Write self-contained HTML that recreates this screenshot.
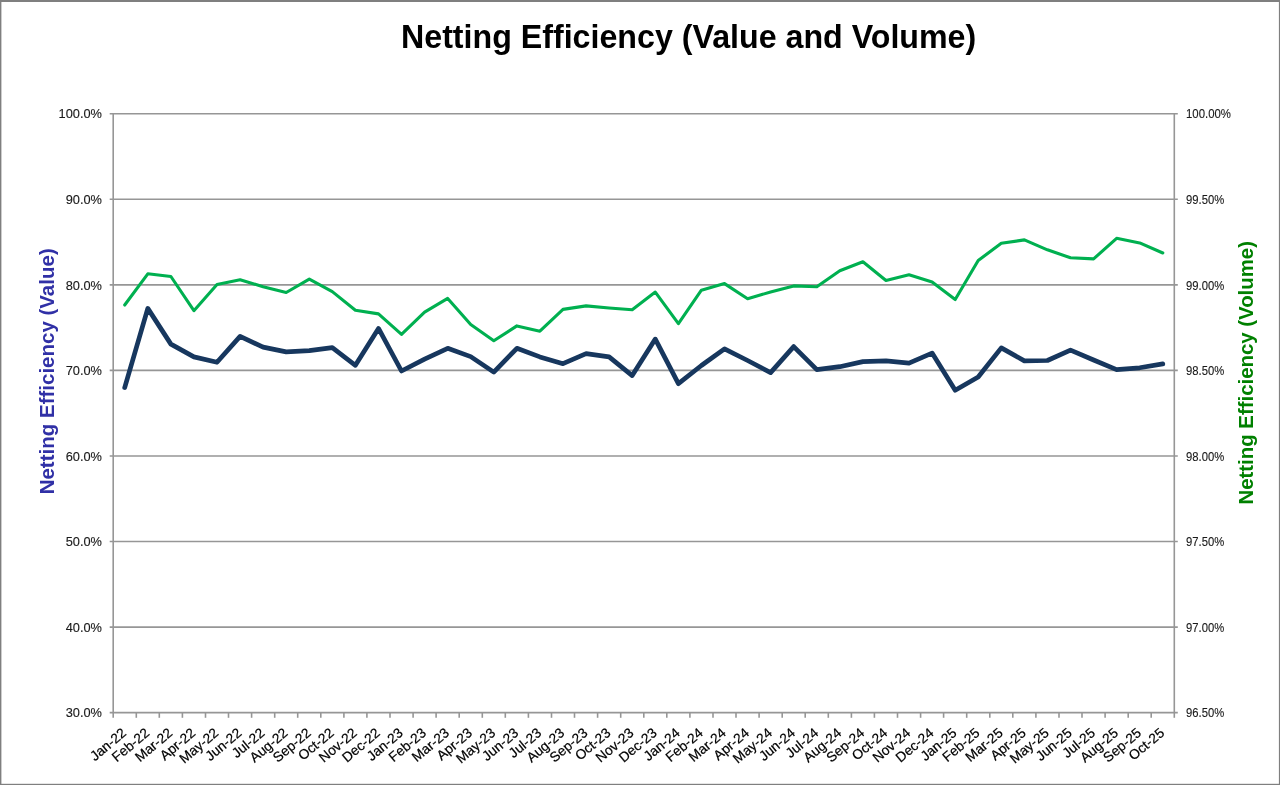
<!DOCTYPE html>
<html><head><meta charset="utf-8"><style>
html,body{margin:0;padding:0;background:#fff;width:1280px;height:785px;overflow:hidden}
svg{display:block;will-change:transform}
.g{stroke:#969696;stroke-width:1.6}
text{font-family:"Liberation Sans",sans-serif}
.yl,.yr{font-size:12.8px;fill:#1a1a1a;stroke:#1a1a1a;stroke-width:0.12px}
.xl{font-size:13.8px;fill:#000;stroke:#000;stroke-width:0.2px}
.t{font-size:32.2px;font-weight:bold;fill:#000}
.at{font-size:20.5px;font-weight:bold}
.at2{font-size:20.4px;font-weight:bold}
</style></head><body>
<svg width="1280" height="785" viewBox="0 0 1280 785">
<rect width="1280" height="785" fill="#fff"/>
<g>
<line x1="109.7" y1="113.8" x2="1177.8" y2="113.8" class="g"/>
<line x1="109.7" y1="199.3" x2="1177.8" y2="199.3" class="g"/>
<line x1="109.7" y1="284.9" x2="1177.8" y2="284.9" class="g"/>
<line x1="109.7" y1="370.4" x2="1177.8" y2="370.4" class="g"/>
<line x1="109.7" y1="456.0" x2="1177.8" y2="456.0" class="g"/>
<line x1="109.7" y1="541.5" x2="1177.8" y2="541.5" class="g"/>
<line x1="109.7" y1="627.1" x2="1177.8" y2="627.1" class="g"/>
<line x1="109.7" y1="712.6" x2="1177.8" y2="712.6" class="g"/>
<line x1="113.2" y1="113.8" x2="113.2" y2="712.6" class="g"/>
<line x1="1174.3" y1="113.8" x2="1174.3" y2="712.6" class="g"/>
<line x1="113.2" y1="712.6" x2="113.2" y2="717.8" class="g"/>
<line x1="136.3" y1="712.6" x2="136.3" y2="717.8" class="g"/>
<line x1="159.3" y1="712.6" x2="159.3" y2="717.8" class="g"/>
<line x1="182.4" y1="712.6" x2="182.4" y2="717.8" class="g"/>
<line x1="205.5" y1="712.6" x2="205.5" y2="717.8" class="g"/>
<line x1="228.5" y1="712.6" x2="228.5" y2="717.8" class="g"/>
<line x1="251.6" y1="712.6" x2="251.6" y2="717.8" class="g"/>
<line x1="274.7" y1="712.6" x2="274.7" y2="717.8" class="g"/>
<line x1="297.7" y1="712.6" x2="297.7" y2="717.8" class="g"/>
<line x1="320.8" y1="712.6" x2="320.8" y2="717.8" class="g"/>
<line x1="343.9" y1="712.6" x2="343.9" y2="717.8" class="g"/>
<line x1="366.9" y1="712.6" x2="366.9" y2="717.8" class="g"/>
<line x1="390.0" y1="712.6" x2="390.0" y2="717.8" class="g"/>
<line x1="413.1" y1="712.6" x2="413.1" y2="717.8" class="g"/>
<line x1="436.1" y1="712.6" x2="436.1" y2="717.8" class="g"/>
<line x1="459.2" y1="712.6" x2="459.2" y2="717.8" class="g"/>
<line x1="482.3" y1="712.6" x2="482.3" y2="717.8" class="g"/>
<line x1="505.3" y1="712.6" x2="505.3" y2="717.8" class="g"/>
<line x1="528.4" y1="712.6" x2="528.4" y2="717.8" class="g"/>
<line x1="551.5" y1="712.6" x2="551.5" y2="717.8" class="g"/>
<line x1="574.5" y1="712.6" x2="574.5" y2="717.8" class="g"/>
<line x1="597.6" y1="712.6" x2="597.6" y2="717.8" class="g"/>
<line x1="620.7" y1="712.6" x2="620.7" y2="717.8" class="g"/>
<line x1="643.8" y1="712.6" x2="643.8" y2="717.8" class="g"/>
<line x1="666.8" y1="712.6" x2="666.8" y2="717.8" class="g"/>
<line x1="689.9" y1="712.6" x2="689.9" y2="717.8" class="g"/>
<line x1="713.0" y1="712.6" x2="713.0" y2="717.8" class="g"/>
<line x1="736.0" y1="712.6" x2="736.0" y2="717.8" class="g"/>
<line x1="759.1" y1="712.6" x2="759.1" y2="717.8" class="g"/>
<line x1="782.2" y1="712.6" x2="782.2" y2="717.8" class="g"/>
<line x1="805.2" y1="712.6" x2="805.2" y2="717.8" class="g"/>
<line x1="828.3" y1="712.6" x2="828.3" y2="717.8" class="g"/>
<line x1="851.4" y1="712.6" x2="851.4" y2="717.8" class="g"/>
<line x1="874.4" y1="712.6" x2="874.4" y2="717.8" class="g"/>
<line x1="897.5" y1="712.6" x2="897.5" y2="717.8" class="g"/>
<line x1="920.6" y1="712.6" x2="920.6" y2="717.8" class="g"/>
<line x1="943.6" y1="712.6" x2="943.6" y2="717.8" class="g"/>
<line x1="966.7" y1="712.6" x2="966.7" y2="717.8" class="g"/>
<line x1="989.8" y1="712.6" x2="989.8" y2="717.8" class="g"/>
<line x1="1012.8" y1="712.6" x2="1012.8" y2="717.8" class="g"/>
<line x1="1035.9" y1="712.6" x2="1035.9" y2="717.8" class="g"/>
<line x1="1059.0" y1="712.6" x2="1059.0" y2="717.8" class="g"/>
<line x1="1082.0" y1="712.6" x2="1082.0" y2="717.8" class="g"/>
<line x1="1105.1" y1="712.6" x2="1105.1" y2="717.8" class="g"/>
<line x1="1128.2" y1="712.6" x2="1128.2" y2="717.8" class="g"/>
<line x1="1151.2" y1="712.6" x2="1151.2" y2="717.8" class="g"/>
<line x1="1174.3" y1="712.6" x2="1174.3" y2="717.8" class="g"/>
<text x="102" y="118.4" class="yl" text-anchor="end">100.0%</text>
<text x="102" y="203.9" class="yl" text-anchor="end">90.0%</text>
<text x="102" y="289.5" class="yl" text-anchor="end">80.0%</text>
<text x="102" y="375.0" class="yl" text-anchor="end">70.0%</text>
<text x="102" y="460.6" class="yl" text-anchor="end">60.0%</text>
<text x="102" y="546.1" class="yl" text-anchor="end">50.0%</text>
<text x="102" y="631.7" class="yl" text-anchor="end">40.0%</text>
<text x="102" y="717.2" class="yl" text-anchor="end">30.0%</text>
<text x="1186" y="118.4" class="yr" textLength="45.0" lengthAdjust="spacingAndGlyphs">100.00%</text>
<text x="1186" y="203.9" class="yr" textLength="38.2" lengthAdjust="spacingAndGlyphs">99.50%</text>
<text x="1186" y="289.5" class="yr" textLength="38.2" lengthAdjust="spacingAndGlyphs">99.00%</text>
<text x="1186" y="375.0" class="yr" textLength="38.2" lengthAdjust="spacingAndGlyphs">98.50%</text>
<text x="1186" y="460.6" class="yr" textLength="38.2" lengthAdjust="spacingAndGlyphs">98.00%</text>
<text x="1186" y="546.1" class="yr" textLength="38.2" lengthAdjust="spacingAndGlyphs">97.50%</text>
<text x="1186" y="631.7" class="yr" textLength="38.2" lengthAdjust="spacingAndGlyphs">97.00%</text>
<text x="1186" y="717.2" class="yr" textLength="38.2" lengthAdjust="spacingAndGlyphs">96.50%</text>
<text transform="translate(127.2,734.4) rotate(-40)" class="xl" text-anchor="end">Jan-22</text>
<text transform="translate(150.3,734.4) rotate(-40)" class="xl" text-anchor="end">Feb-22</text>
<text transform="translate(173.4,734.4) rotate(-40)" class="xl" text-anchor="end">Mar-22</text>
<text transform="translate(196.4,734.4) rotate(-40)" class="xl" text-anchor="end">Apr-22</text>
<text transform="translate(219.5,734.4) rotate(-40)" class="xl" text-anchor="end">May-22</text>
<text transform="translate(242.6,734.4) rotate(-40)" class="xl" text-anchor="end">Jun-22</text>
<text transform="translate(265.6,734.4) rotate(-40)" class="xl" text-anchor="end">Jul-22</text>
<text transform="translate(288.7,734.4) rotate(-40)" class="xl" text-anchor="end">Aug-22</text>
<text transform="translate(311.8,734.4) rotate(-40)" class="xl" text-anchor="end">Sep-22</text>
<text transform="translate(334.8,734.4) rotate(-40)" class="xl" text-anchor="end">Oct-22</text>
<text transform="translate(357.9,734.4) rotate(-40)" class="xl" text-anchor="end">Nov-22</text>
<text transform="translate(381.0,734.4) rotate(-40)" class="xl" text-anchor="end">Dec-22</text>
<text transform="translate(404.0,734.4) rotate(-40)" class="xl" text-anchor="end">Jan-23</text>
<text transform="translate(427.1,734.4) rotate(-40)" class="xl" text-anchor="end">Feb-23</text>
<text transform="translate(450.2,734.4) rotate(-40)" class="xl" text-anchor="end">Mar-23</text>
<text transform="translate(473.2,734.4) rotate(-40)" class="xl" text-anchor="end">Apr-23</text>
<text transform="translate(496.3,734.4) rotate(-40)" class="xl" text-anchor="end">May-23</text>
<text transform="translate(519.4,734.4) rotate(-40)" class="xl" text-anchor="end">Jun-23</text>
<text transform="translate(542.4,734.4) rotate(-40)" class="xl" text-anchor="end">Jul-23</text>
<text transform="translate(565.5,734.4) rotate(-40)" class="xl" text-anchor="end">Aug-23</text>
<text transform="translate(588.6,734.4) rotate(-40)" class="xl" text-anchor="end">Sep-23</text>
<text transform="translate(611.6,734.4) rotate(-40)" class="xl" text-anchor="end">Oct-23</text>
<text transform="translate(634.7,734.4) rotate(-40)" class="xl" text-anchor="end">Nov-23</text>
<text transform="translate(657.8,734.4) rotate(-40)" class="xl" text-anchor="end">Dec-23</text>
<text transform="translate(680.9,734.4) rotate(-40)" class="xl" text-anchor="end">Jan-24</text>
<text transform="translate(703.9,734.4) rotate(-40)" class="xl" text-anchor="end">Feb-24</text>
<text transform="translate(727.0,734.4) rotate(-40)" class="xl" text-anchor="end">Mar-24</text>
<text transform="translate(750.1,734.4) rotate(-40)" class="xl" text-anchor="end">Apr-24</text>
<text transform="translate(773.1,734.4) rotate(-40)" class="xl" text-anchor="end">May-24</text>
<text transform="translate(796.2,734.4) rotate(-40)" class="xl" text-anchor="end">Jun-24</text>
<text transform="translate(819.3,734.4) rotate(-40)" class="xl" text-anchor="end">Jul-24</text>
<text transform="translate(842.3,734.4) rotate(-40)" class="xl" text-anchor="end">Aug-24</text>
<text transform="translate(865.4,734.4) rotate(-40)" class="xl" text-anchor="end">Sep-24</text>
<text transform="translate(888.5,734.4) rotate(-40)" class="xl" text-anchor="end">Oct-24</text>
<text transform="translate(911.5,734.4) rotate(-40)" class="xl" text-anchor="end">Nov-24</text>
<text transform="translate(934.6,734.4) rotate(-40)" class="xl" text-anchor="end">Dec-24</text>
<text transform="translate(957.7,734.4) rotate(-40)" class="xl" text-anchor="end">Jan-25</text>
<text transform="translate(980.7,734.4) rotate(-40)" class="xl" text-anchor="end">Feb-25</text>
<text transform="translate(1003.8,734.4) rotate(-40)" class="xl" text-anchor="end">Mar-25</text>
<text transform="translate(1026.9,734.4) rotate(-40)" class="xl" text-anchor="end">Apr-25</text>
<text transform="translate(1049.9,734.4) rotate(-40)" class="xl" text-anchor="end">May-25</text>
<text transform="translate(1073.0,734.4) rotate(-40)" class="xl" text-anchor="end">Jun-25</text>
<text transform="translate(1096.1,734.4) rotate(-40)" class="xl" text-anchor="end">Jul-25</text>
<text transform="translate(1119.1,734.4) rotate(-40)" class="xl" text-anchor="end">Aug-25</text>
<text transform="translate(1142.2,734.4) rotate(-40)" class="xl" text-anchor="end">Sep-25</text>
<text transform="translate(1165.3,734.4) rotate(-40)" class="xl" text-anchor="end">Oct-25</text>
<polyline points="124.7,305.0 147.8,273.8 170.9,276.5 193.9,310.7 217.0,284.5 240.1,279.7 263.1,286.8 286.2,292.5 309.3,279.1 332.3,291.6 355.4,310.3 378.5,313.9 401.5,334.4 424.6,312.1 447.7,298.4 470.7,324.6 493.8,340.7 516.9,325.9 539.9,331.2 563.0,309.4 586.1,305.9 609.1,308.0 632.2,309.8 655.3,292.1 678.4,323.7 701.4,290.2 724.5,283.6 747.6,298.7 770.6,292.0 793.7,285.9 816.8,286.8 839.8,270.7 862.9,261.7 886.0,280.5 909.0,274.7 932.1,281.9 955.2,299.5 978.2,260.5 1001.3,243.3 1024.4,239.9 1047.4,249.8 1070.5,257.8 1093.6,258.9 1116.6,238.3 1139.7,242.9 1162.8,253.0" fill="none" stroke="#00B050" stroke-width="3.1" stroke-linejoin="round" stroke-linecap="round"/>
<polyline points="124.7,387.6 147.8,308.4 170.9,344.1 193.9,356.9 217.0,362.3 240.1,336.4 263.1,347.1 286.2,351.9 309.3,350.7 332.3,347.6 355.4,365.3 378.5,328.4 401.5,371.0 424.6,359.2 447.7,348.3 470.7,356.6 493.8,372.1 516.9,348.3 539.9,356.9 563.0,363.7 586.1,353.7 609.1,356.9 632.2,375.6 655.3,339.1 678.4,383.7 701.4,365.5 724.5,348.9 747.6,360.5 770.6,372.6 793.7,346.6 816.8,369.7 839.8,366.7 862.9,361.6 886.0,360.9 909.0,363.2 932.1,353.1 955.2,390.3 978.2,377.0 1001.3,347.9 1024.4,360.9 1047.4,360.5 1070.5,350.2 1093.6,360.0 1116.6,369.6 1139.7,367.8 1162.8,363.9" fill="none" stroke="#17375E" stroke-width="4.7" stroke-linejoin="round" stroke-linecap="round"/>
<text transform="translate(688.6,47.9) scale(1,1.035)" class="t" text-anchor="middle">Netting Efficiency (Value and Volume)</text>
<text transform="translate(53.6,371.3) rotate(-90)" class="at" text-anchor="middle" fill="#3030A6">Netting Efficiency (Value)</text>
<text transform="translate(1253.1,372.8) rotate(-90)" class="at2" text-anchor="middle" fill="#008000">Netting Efficiency (Volume)</text>
<rect x="0" y="0" width="1280" height="2" fill="#7f7f7f"/>
<rect x="0" y="0" width="1.4" height="785" fill="#7f7f7f"/>
<rect x="1278.9" y="0" width="1.1" height="785" fill="#7f7f7f"/>
<rect x="0" y="783.8" width="1280" height="1.2" fill="#7f7f7f"/>
</g>
</svg>
</body></html>
